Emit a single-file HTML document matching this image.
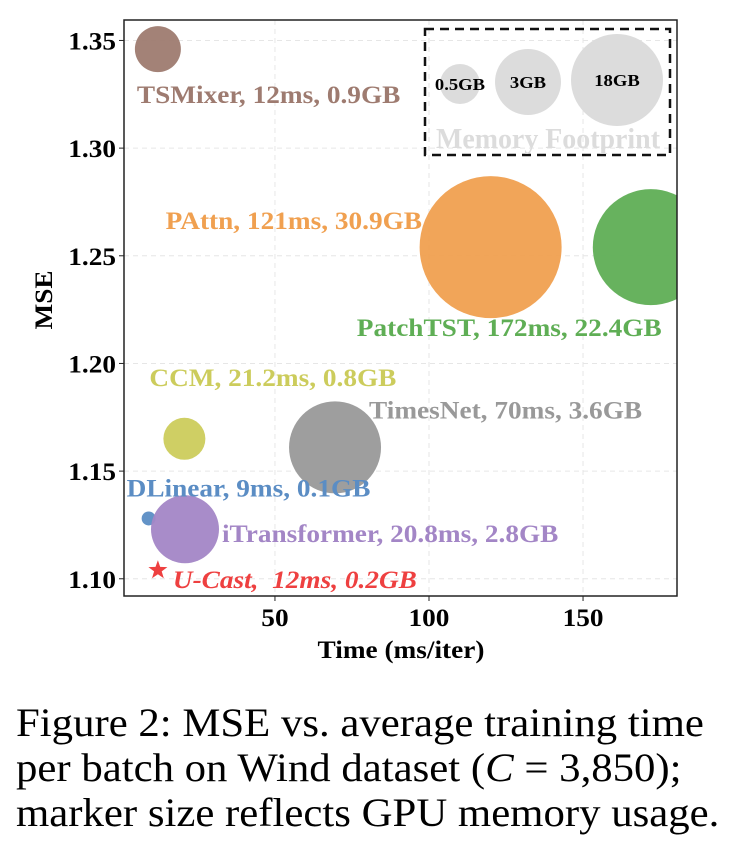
<!DOCTYPE html>
<html><head><meta charset="utf-8"><style>
body{margin:0;background:#fff;width:749px;height:852px;overflow:hidden}
svg{display:block}
</style></head><body>
<svg id="chart" width="749" height="852" font-family="'Liberation Serif', serif">
<defs><clipPath id="plotclip"><rect x="124" y="20" width="553" height="576"/></clipPath></defs>
<g id="grid"></g>
<g id="marks" clip-path="url(#plotclip)"></g>
<g id="labels"></g>
<rect x="124" y="20" width="553" height="576" fill="none" stroke="#222" stroke-width="1.5"/>
<g id="axes"></g>
<g>
<rect x="425" y="29" width="245" height="126" fill="none" stroke="#111" stroke-width="2.5" stroke-dasharray="9,6"/>
<circle cx="460" cy="84" r="20" fill="#dcdcdc"/>
<text class="w" x="460" y="90" font-size="15" font-weight="bold" text-anchor="middle">0.5GB</text>
<circle cx="528" cy="82" r="33" fill="#dcdcdc"/>
<text class="w" x="528" y="88" font-size="15" font-weight="bold" text-anchor="middle">3GB</text>
<circle cx="617" cy="80" r="46" fill="#dcdcdc"/>
<text class="w" x="617" y="86" font-size="15" font-weight="bold" text-anchor="middle">18GB</text>
<text x="548" y="148" font-size="28" font-weight="bold" fill="#dcdcdc" text-anchor="middle" textLength="224" lengthAdjust="spacingAndGlyphs">Memory Footprint</text>
</g>
<text class="w" transform="translate(52,300) rotate(-90)" font-size="22" font-weight="bold" text-anchor="middle">MSE</text>
<text class="w" x="401" y="658" font-size="22" font-weight="bold" text-anchor="middle">Time (ms/iter)</text>
<g font-size="34.5">
<text class="w" x="16" y="736">Figure 2: MSE vs. average training time</text>
<text class="w" x="16" y="781">per batch on Wind dataset (<tspan font-style="italic">C</tspan> = 3,850);</text>
<text class="w" x="16" y="826">marker size reflects GPU memory usage.</text>
</g>
</svg>
<script>
const models = ["TSMixer","PAttn","PatchTST","CCM","TimesNet","DLinear","iTransformer","U-Cast"];
const timeMs = [12, 120, 172, 20.6, 69.5, 9, 20.8, 12];
const mse = [1.346, 1.254, 1.254, 1.165, 1.161, 1.128, 1.123, 1.104];
const memGB = [0.9, 30.9, 22.4, 0.8, 3.6, 0.1, 2.8, 0.2];
const timeText = ["12ms","121ms","172ms","21.2ms","70ms","9ms","20.8ms","12ms"];
const bubbleSize = [23, 71, 58, 21, 46, 7, 34, 0];
const colors = ["#9e7b70","#f0a050","#5fae55","#cccc5c","#999999","#5b8dc4","#a386c6","#ee4040"];
const xTicks = [50, 100, 150];
const yTicks = [1.10, 1.15, 1.20, 1.25, 1.30, 1.35];
const labelOffsets = [[-21,54],[-325,-18],[-294,89],[-35,-53],[34,-29],[-22,-22],[37,13],[15,18]];

const X0=124, X1=677, Y0=596, Y1=20, xmin=1, xmax=180.5, ymin=1.092, ymax=1.3595;
const xs = v => X0 + (v - xmin) / (xmax - xmin) * (X1 - X0);
const ys = v => Y0 - (v - ymin) / (ymax - ymin) * (Y0 - Y1);
const NS = "http://www.w3.org/2000/svg";
function mk(tag, attrs, parent, txt){const e=document.createElementNS(NS,tag);for(const k in attrs)e.setAttribute(k,attrs[k]);if(txt!==undefined)e.textContent=txt;parent.appendChild(e);return e;}
const grid=document.getElementById('grid'), axes=document.getElementById('axes'), marks=document.getElementById('marks'), labels=document.getElementById('labels');
xTicks.forEach(t=>{
  const x=xs(t);
  const g=mk('line',{x1:x,x2:x,y1:Y1,y2:Y0,stroke:'#e6e6e6','stroke-dasharray':'5,4'},grid);
   
  const tk=mk('line',{x1:x,x2:x,y1:Y0,y2:Y0+5,stroke:'#222'},axes);
   
  const tl=mk('text',{x:x,y:Y0+30,'font-size':22,'font-weight':'bold','text-anchor':'middle',class:'w'},axes,String(t));
   
});
yTicks.forEach(t=>{
  const y=ys(t);
  const g=mk('line',{x1:X0,x2:X1,y1:y,y2:y,stroke:'#e6e6e6','stroke-dasharray':'5,4'},grid);
   
  const tk=mk('line',{x1:X0-5,x2:X0,y1:y,y2:y,stroke:'#222'},axes);
   
  const tl=mk('text',{x:X0-8,y:y+9,'font-size':22,'font-weight':'bold','text-anchor':'end',class:'w'},axes,t.toFixed(2));
   
});
models.forEach((m,i)=>{
  const cx=xs(timeMs[i]), cy=ys(mse[i]);
  let el;
  if(m==="U-Cast"){
    const pts=[];for(let k=0;k<10;k++){const r=k%2?4:10,a=-Math.PI/2+k*Math.PI/5;pts.push((cx+r*Math.cos(a)).toFixed(1)+','+(cy+r*Math.sin(a)).toFixed(1));}
    el=mk('polygon',{points:pts.join(' '),fill:colors[i]},marks);
  } else {
    el=mk('circle',{cx:cx,cy:cy,r:bubbleSize[i],fill:colors[i],'fill-opacity':0.95},marks);
  }
  
  
  const lx=cx+labelOffsets[i][0], ly=cy+labelOffsets[i][1];
  const txt=m==="U-Cast"?`U-Cast,  ${timeText[i]}, ${memGB[i]}GB`:`${m}, ${timeText[i]}, ${memGB[i]}GB`;
  const t=mk('text',{x:lx,y:ly,'font-size':22,'font-weight':'bold',fill:colors[i],'font-style':m==="U-Cast"?'italic':'normal',class:'w'},labels,txt);
  t.style.whiteSpace='pre';
  
  
});
document.querySelectorAll('text.w').forEach(t=>{
  const L=t.getComputedTextLength();
  if(L>0){
    const fs=parseFloat(t.getAttribute('font-size')||t.parentNode.getAttribute('font-size'));
    t.setAttribute('font-size',(fs*1.15).toFixed(1));
    t.setAttribute('textLength',(L*1.24).toFixed(1));
    t.setAttribute('lengthAdjust','spacingAndGlyphs');
  }
});
</script>
</body></html>
